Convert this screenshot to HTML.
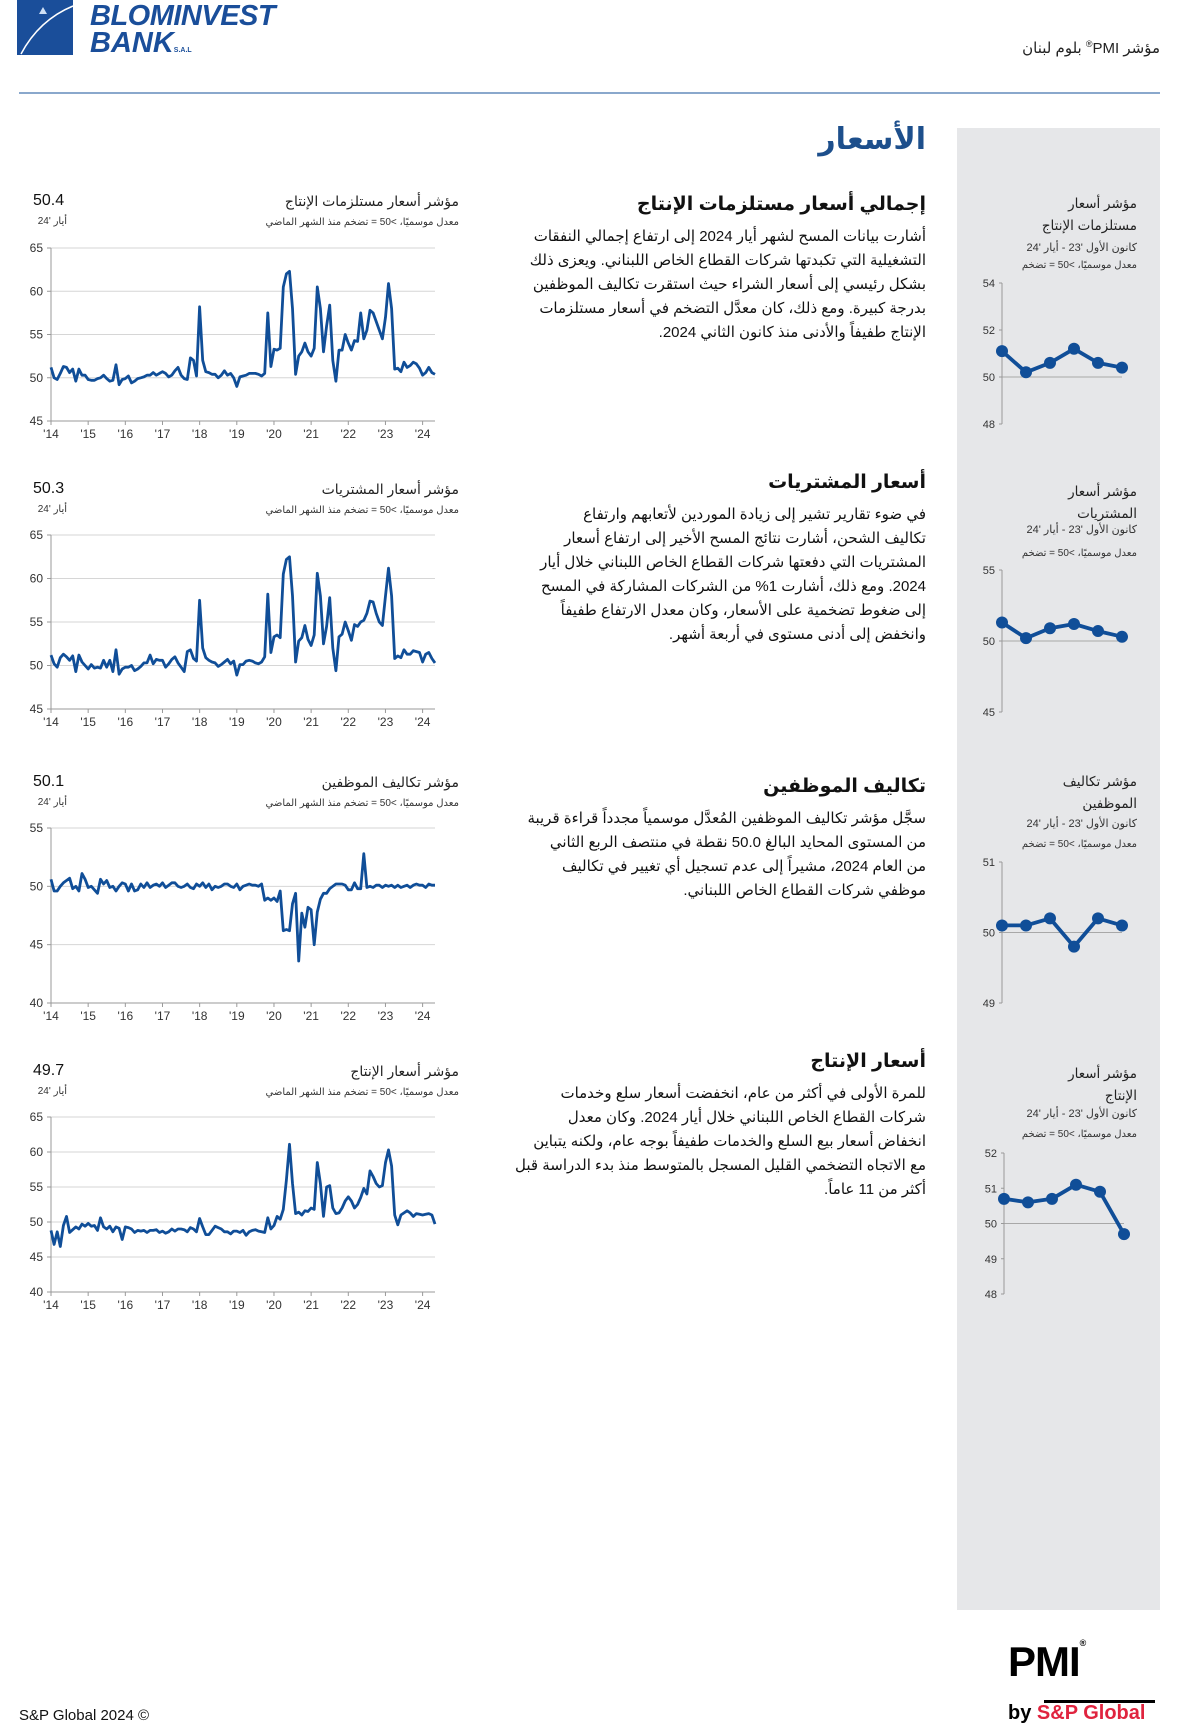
<!DOCTYPE html>
<html><head><meta charset="utf-8">
<style>
html,body{margin:0;padding:0;background:#fff;}
body{width:1200px;height:1731px;position:relative;overflow:hidden;font-family:"Liberation Sans","DejaVu Sans",sans-serif;}
.abs{position:absolute;}
.ar{direction:rtl;text-align:right;font-family:"Liberation Sans","DejaVu Sans",sans-serif;white-space:nowrap;}
.para{font-size:15px;line-height:24px;color:#111;}
.h2{font-size:19px;font-weight:bold;color:#111;}
.ctitle{font-size:14px;color:#222;}
.csub{font-size:10px;color:#333;}
.val{font-family:"Liberation Sans",sans-serif;font-size:16px;color:#111;}
svg text{font-family:"Liberation Sans",sans-serif;}
</style></head>
<body>
<div class="abs" style="left:17px;top:0;width:270px;height:58px;">
  <svg width="60" height="56" style="position:absolute;left:0;top:0">
    <rect x="0" y="0" width="56" height="55" fill="#1a4e9a"/>
    <path d="M4 54 Q22 20 56 6" stroke="#fff" stroke-width="1.5" fill="none"/>
    <path d="M22 14 L26 7 L30 14 Z" fill="#cfe0f5"/>
  </svg>
  <div style="position:absolute;left:73px;top:0px;font:italic bold 29px 'Liberation Sans',sans-serif;color:#1a4e9a;letter-spacing:-0.5px;">BLOMINVEST</div>
  <div style="position:absolute;left:73px;top:27px;font:italic bold 29px 'Liberation Sans',sans-serif;color:#1a4e9a;">BANK<span style="font-size:7px;font-style:normal">S.A.L</span></div>
</div>
<div class="abs ar" style="right:40px;top:39px;font-size:15px;color:#222;">مؤشر PMI<sup style="font-size:9px">®</sup> بلوم لبنان</div>
<div class="abs" style="left:19px;top:92px;width:1141px;height:2px;background:#8aa8cc;"></div>
<div class="abs" style="left:957px;top:128px;width:203px;height:1482px;background:#e6e7e9;"></div>

<div class="abs ar" style="right:274px;top:122px;font-size:30px;font-weight:bold;color:#1d4f8c;">الأسعار</div>

<div class="abs ar h2" style="right:274px;top:193px;">إجمالي أسعار مستلزمات الإنتاج</div>
<div class="abs ar para" style="right:274px;top:225px;">أشارت بيانات المسح لشهر أيار 2024 إلى ارتفاع إجمالي النفقات<br>التشغيلية التي تكبدتها شركات القطاع الخاص اللبناني. ويعزى ذلك<br>بشكل رئيسي إلى أسعار الشراء حيث استقرت تكاليف الموظفين<br>بدرجة كبيرة. ومع ذلك، كان معدَّل التضخم في أسعار مستلزمات<br>الإنتاج طفيفاً والأدنى منذ كانون الثاني 2024.</div>

<div class="abs ar h2" style="right:274px;top:471px;">أسعار المشتريات</div>
<div class="abs ar para" style="right:274px;top:503px;">في ضوء تقارير تشير إلى زيادة الموردين لأتعابهم وارتفاع<br>تكاليف الشحن، أشارت نتائج المسح الأخير إلى ارتفاع أسعار<br>المشتريات التي دفعتها شركات القطاع الخاص اللبناني خلال أيار<br>2024. ومع ذلك، أشارت 1% من الشركات المشاركة في المسح<br>إلى ضغوط تضخمية على الأسعار، وكان معدل الارتفاع طفيفاً<br>وانخفض إلى أدنى مستوى في أربعة أشهر.</div>

<div class="abs ar h2" style="right:274px;top:775px;">تكاليف الموظفين</div>
<div class="abs ar para" style="right:274px;top:807px;">سجَّل مؤشر تكاليف الموظفين المُعدَّل موسمياً مجدداً قراءة قريبة<br>من المستوى المحايد البالغ 50.0 نقطة في منتصف الربع الثاني<br>من العام 2024، مشيراً إلى عدم تسجيل أي تغيير في تكاليف<br>موظفي شركات القطاع الخاص اللبناني.</div>

<div class="abs ar h2" style="right:274px;top:1050px;">أسعار الإنتاج</div>
<div class="abs ar para" style="right:274px;top:1082px;">للمرة الأولى في أكثر من عام، انخفضت أسعار سلع وخدمات<br>شركات القطاع الخاص اللبناني خلال أيار 2024. وكان معدل<br>انخفاض أسعار بيع السلع والخدمات طفيفاً بوجه عام، ولكنه يتباين<br>مع الاتجاه التضخمي القليل المسجل بالمتوسط منذ بدء الدراسة قبل<br>أكثر من 11 عاماً.</div>

<!-- big chart headers -->
<div class="abs ar ctitle" style="right:741px;top:193px;">مؤشر أسعار مستلزمات الإنتاج</div>
<div class="abs ar csub" style="right:741px;top:217px;">معدل موسميًا، &gt;50 = تضخم منذ الشهر الماضي</div>
<div class="abs val" style="left:33px;top:192px;">50.4</div>
<div class="abs ar csub" style="right:1133px;top:216px;">أيار '24</div>

<div class="abs ar ctitle" style="right:741px;top:481px;">مؤشر أسعار المشتريات</div>
<div class="abs ar csub" style="right:741px;top:505px;">معدل موسميًا، &gt;50 = تضخم منذ الشهر الماضي</div>
<div class="abs val" style="left:33px;top:480px;">50.3</div>
<div class="abs ar csub" style="right:1133px;top:504px;">أيار '24</div>

<div class="abs ar ctitle" style="right:741px;top:774px;">مؤشر تكاليف الموظفين</div>
<div class="abs ar csub" style="right:741px;top:798px;">معدل موسميًا، &gt;50 = تضخم منذ الشهر الماضي</div>
<div class="abs val" style="left:33px;top:773px;">50.1</div>
<div class="abs ar csub" style="right:1133px;top:797px;">أيار '24</div>

<div class="abs ar ctitle" style="right:741px;top:1063px;">مؤشر أسعار الإنتاج</div>
<div class="abs ar csub" style="right:741px;top:1087px;">معدل موسميًا، &gt;50 = تضخم منذ الشهر الماضي</div>
<div class="abs val" style="left:33px;top:1062px;">49.7</div>
<div class="abs ar csub" style="right:1133px;top:1086px;">أيار '24</div>

<!-- small chart headers -->
<div class="abs ar" style="right:63px;top:193px;font-size:13.5px;line-height:22px;color:#222;">مؤشر أسعار<br>مستلزمات الإنتاج</div>
<div class="abs ar csub" style="right:63px;top:241px;font-size:11px;">كانون الأول '23 - أيار '24</div>
<div class="abs ar csub" style="right:63px;top:260px;">معدل موسميًا، &gt;50 = تضخم</div>

<div class="abs ar" style="right:63px;top:481px;font-size:13.5px;line-height:22px;color:#222;">مؤشر أسعار<br>المشتريات</div>
<div class="abs ar csub" style="right:63px;top:523px;font-size:11px;">كانون الأول '23 - أيار '24</div>
<div class="abs ar csub" style="right:63px;top:548px;">معدل موسميًا، &gt;50 = تضخم</div>

<div class="abs ar" style="right:63px;top:771px;font-size:13.5px;line-height:22px;color:#222;">مؤشر تكاليف<br>الموظفين</div>
<div class="abs ar csub" style="right:63px;top:817px;font-size:11px;">كانون الأول '23 - أيار '24</div>
<div class="abs ar csub" style="right:63px;top:839px;">معدل موسميًا، &gt;50 = تضخم</div>

<div class="abs ar" style="right:63px;top:1063px;font-size:13.5px;line-height:22px;color:#222;">مؤشر أسعار<br>الإنتاج</div>
<div class="abs ar csub" style="right:63px;top:1107px;font-size:11px;">كانون الأول '23 - أيار '24</div>
<div class="abs ar csub" style="right:63px;top:1129px;">معدل موسميًا، &gt;50 = تضخم</div>

<svg id="charts" class="abs" style="left:0;top:0" width="1200" height="1731"></svg>

<!-- footer -->
<div class="abs" style="left:19px;top:1707px;font-size:15px;color:#111;">S&amp;P Global 2024 ©</div>
<div class="abs" style="left:1008px;top:1638px;font:bold 42px 'Liberation Sans',sans-serif;color:#000;letter-spacing:-1px;">PMI<span style="font-size:9px;vertical-align:top">®</span></div>
<div class="abs" style="left:1044px;top:1700px;width:111px;height:3px;background:#000;"></div>
<div class="abs" style="left:1008px;top:1702px;font:bold 20px 'Liberation Sans',sans-serif;color:#000;">by <span style="color:#e0243f;">S&amp;P Global</span></div>

<script>
// ---- Data ----
const years = ["'14","'15","'16","'17","'18","'19","'20","'21","'22","'23","'24"];
const inputPrices = [
51.2,50.0,49.8,50.5,51.3,51.2,50.6,51.0,49.6,51.0,50.3,50.3,
49.8,49.7,49.7,49.9,50.0,50.3,49.9,49.6,49.7,51.5,49.2,49.8,
49.9,50.2,49.4,49.6,49.9,50.0,50.1,50.3,50.3,50.6,50.3,50.5,
50.7,50.5,50.1,50.3,50.8,51.2,50.3,49.9,49.8,52.3,52.0,50.2,
58.2,52.0,50.7,50.6,50.4,50.4,50.0,50.3,50.8,50.3,50.5,50.0,
49.0,50.1,50.2,50.3,50.5,50.5,50.5,50.4,50.2,50.5,57.5,51.3,
53.3,53.2,53.4,60.5,62.0,62.3,58.0,50.4,52.5,53.0,54.0,53.0,
52.5,53.4,60.5,58.0,53.0,56.0,58.4,52.0,49.6,53.2,53.2,55.0,
54.0,53.2,54.3,54.2,57.5,54.5,55.5,57.8,57.5,56.5,55.5,54.5,
57.0,60.9,58.0,51.0,51.1,50.7,51.8,51.2,51.4,51.8,51.6,51.1,
50.3,50.6,51.2,50.6,50.4];
const purchasePrices = [
51.2,50.2,49.8,50.9,51.3,51.0,50.6,51.1,49.3,51.2,50.4,50.0,
49.6,50.1,49.7,49.8,49.7,50.6,49.8,50.6,49.3,51.8,49.0,49.6,
49.8,49.8,50.0,49.4,49.6,49.9,50.3,50.3,51.2,50.2,50.7,50.6,
50.6,49.8,50.2,50.7,51.0,50.3,49.8,49.3,51.6,51.8,50.8,50.5,
57.5,52.0,50.9,50.6,50.4,50.3,49.9,50.1,50.4,50.7,50.2,50.5,
48.9,50.1,50.1,50.5,50.6,50.5,50.3,50.2,50.4,51.0,58.2,51.5,
53.3,53.5,53.2,60.5,62.2,62.5,58.0,50.4,52.8,53.2,54.6,53.0,
52.3,53.5,60.6,58.0,52.5,54.5,57.8,52.0,49.4,53.3,53.6,55.0,
54.0,52.9,54.7,54.5,55.0,55.2,56.0,57.4,57.3,56.0,55.0,54.6,
58.0,61.2,58.0,50.8,51.1,50.9,51.8,51.3,51.3,51.7,51.6,51.5,
50.4,51.3,51.5,50.8,50.3];
const staffCosts = [
50.6,49.6,49.6,50.0,50.3,50.5,50.7,49.8,50.0,49.6,51.1,50.6,
49.9,50.0,49.7,49.4,50.6,50.2,50.5,49.9,50.0,49.6,50.0,50.3,
50.2,49.6,50.2,49.6,49.7,50.2,49.9,50.3,49.9,50.1,50.2,50.0,
50.3,49.9,50.1,50.3,50.3,50.0,49.9,50.0,50.2,49.9,49.8,50.2,
50.0,50.3,49.9,50.2,49.7,50.0,49.9,50.0,50.2,50.2,50.0,49.9,
50.2,49.7,50.0,50.1,50.2,50.1,50.1,50.0,50.2,48.8,49.0,48.8,
49.0,48.7,49.6,46.2,46.3,46.2,48.5,49.4,43.6,47.7,46.5,48.2,
48.0,45.0,47.8,48.9,49.4,49.4,49.8,50.0,50.2,50.2,50.2,50.1,
49.7,49.7,50.3,49.8,49.8,52.8,49.9,50.0,49.9,50.1,50.1,49.9,
50.1,50.0,50.1,49.9,50.1,49.9,50.0,50.1,49.9,50.1,50.2,50.1,
50.1,49.9,50.2,50.1,50.1];
const outputPrices = [
48.8,46.8,48.6,46.5,49.5,50.8,48.5,48.9,49.3,49.0,49.7,49.4,
49.8,49.4,49.5,48.8,50.6,49.3,49.0,49.4,48.6,49.3,49.1,47.5,
49.3,49.2,49.0,48.5,48.8,48.7,48.8,48.5,48.8,48.8,48.9,48.5,
48.7,48.4,48.6,49.0,48.7,49.0,49.0,48.9,48.6,49.2,49.0,48.6,
50.5,49.3,48.2,48.2,48.8,49.4,49.2,49.0,48.6,48.6,48.3,48.7,
48.7,48.5,48.8,48.1,48.6,48.8,48.9,48.7,48.6,48.5,50.6,49.0,
49.5,50.8,50.4,51.8,56.0,61.1,55.5,51.2,51.4,51.0,51.6,51.5,
52.0,51.8,58.5,55.5,50.8,55.0,55.2,52.0,51.2,51.3,52.0,53.0,
53.6,53.0,52.0,52.5,53.5,54.8,54.0,57.3,56.5,55.5,55.0,55.2,
58.5,60.3,58.0,51.0,49.6,51.0,51.3,51.6,51.3,50.8,51.2,51.1,
51.0,51.1,51.2,51.0,49.7];
const miniInput = [51.1,50.2,50.6,51.2,50.6,50.4];
const miniPurchase = [51.3,50.2,50.9,51.2,50.7,50.3];
const miniStaff = [50.1,50.1,50.2,49.8,50.2,50.1];
const miniOutput = [50.7,50.6,50.7,51.1,50.9,49.7];
const ticks1 = [45,50,55,60,65];
const ticks3 = [40,45,50,55];
const ticks4 = [40,45,50,55,60,65];
const miniTicks1 = [48,50,52,54];
const miniTicks2 = [45,50,55];
const miniTicks3 = [49,50,51];
const miniTicks4 = [48,49,50,51,52];

const NS = "http://www.w3.org/2000/svg";
const svg = document.getElementById('charts');
function mk(tag, attrs, parent){
  const e = document.createElementNS(NS, tag);
  for (const k in attrs) e.setAttribute(k, attrs[k]);
  (parent||svg).appendChild(e);
  return e;
}

function bigChart(name, series, ticks, top, bottom){
  const g = mk('g', {});
  
  
  const x0 = 51, x1 = 435;
  const lo = ticks[0], hi = ticks[ticks.length-1];
  const n = series.length;
  const xs = i => x0 + (x1 - x0) * i / (n - 1);
  const ys = v => bottom - (bottom - top) * (v - lo) / (hi - lo);
  ticks.forEach(t => {
    const y = ys(t);
    if (t !== lo) {
      const gl = mk('line', {x1:x0, x2:x1, y1:y, y2:y, stroke:'#d6d6d6', 'stroke-width':1}, g);
      
      
    }
    mk('line', {x1:x0-4, x2:x0, y1:y, y2:y, stroke:'#999', 'stroke-width':1}, g);
    const tl = mk('text', {x:x0-8, y:y+4, 'text-anchor':'end', 'font-size':12, fill:'#333'}, g);
    tl.textContent = t;
    
    
  });
  const ax = mk('line', {x1:x0, x2:x0, y1:top, y2:bottom, stroke:'#999', 'stroke-width':1}, g);
  
  
  const bx = mk('line', {x1:x0, x2:x1, y1:bottom, y2:bottom, stroke:'#999', 'stroke-width':1}, g);
  
  
  years.forEach((lab, k) => {
    const x = xs(k*12);
    mk('line', {x1:x, x2:x, y1:bottom, y2:bottom+4, stroke:'#999', 'stroke-width':1}, g);
    const t = mk('text', {x:x, y:bottom+17, 'text-anchor':'middle', 'font-size':12, fill:'#333'}, g);
    t.textContent = lab;
    
    
  });
  const d = series.map((v,i) => (i?'L':'M') + xs(i).toFixed(1) + ' ' + ys(v).toFixed(1)).join(' ');
  const p = mk('path', {d:d, fill:'none', stroke:'#104e98', 'stroke-width':2.8, 'stroke-linejoin':'round'}, g);
  
  
}

function miniChart(name, series, ticks, top, bottom, ax){
  const g = mk('g', {});
  
  
  const x0 = ax, x1 = ax + 120;
  const lo = ticks[0], hi = ticks[ticks.length-1];
  const xs = i => x0 + (x1 - x0) * i / (series.length - 1);
  const ys = v => bottom - (bottom - top) * (v - lo) / (hi - lo);
  const by = ys(50);
  const bl = mk('line', {x1:x0, x2:x1, y1:by, y2:by, stroke:'#a8a8a8', 'stroke-width':1}, g);
  
  
  const a = mk('line', {x1:x0, x2:x0, y1:top, y2:bottom, stroke:'#999', 'stroke-width':1}, g);
  
  
  ticks.forEach(t => {
    const y = ys(t);
    mk('line', {x1:x0-3, x2:x0, y1:y, y2:y, stroke:'#999', 'stroke-width':1}, g);
    const tl = mk('text', {x:x0-7, y:y+4, 'text-anchor':'end', 'font-size':11, fill:'#333'}, g);
    tl.textContent = t;
    
    
  });
  const d = series.map((v,i) => (i?'L':'M') + xs(i).toFixed(1) + ' ' + ys(v).toFixed(1)).join(' ');
  const p = mk('path', {d:d, fill:'none', stroke:'#104e98', 'stroke-width':3.8, 'stroke-linejoin':'round'}, g);
  
  
  series.forEach((v,i) => {
    const c = mk('circle', {cx:xs(i), cy:ys(v), r:6, fill:'#104e98'}, g);
    
    
  });
}

bigChart('input-prices-chart', inputPrices, ticks1, 248, 421);
bigChart('purchase-prices-chart', purchasePrices, ticks1, 535, 709);
bigChart('staff-costs-chart', staffCosts, ticks3, 828, 1003);
bigChart('output-prices-chart', outputPrices, ticks4, 1117, 1292);
miniChart('mini-input-prices-chart', miniInput, miniTicks1, 283, 424, 1002);
miniChart('mini-purchase-prices-chart', miniPurchase, miniTicks2, 570, 712, 1002);
miniChart('mini-staff-costs-chart', miniStaff, miniTicks3, 862, 1003, 1002);
miniChart('mini-output-prices-chart', miniOutput, miniTicks4, 1153, 1294, 1004);
</script>
</body></html>
